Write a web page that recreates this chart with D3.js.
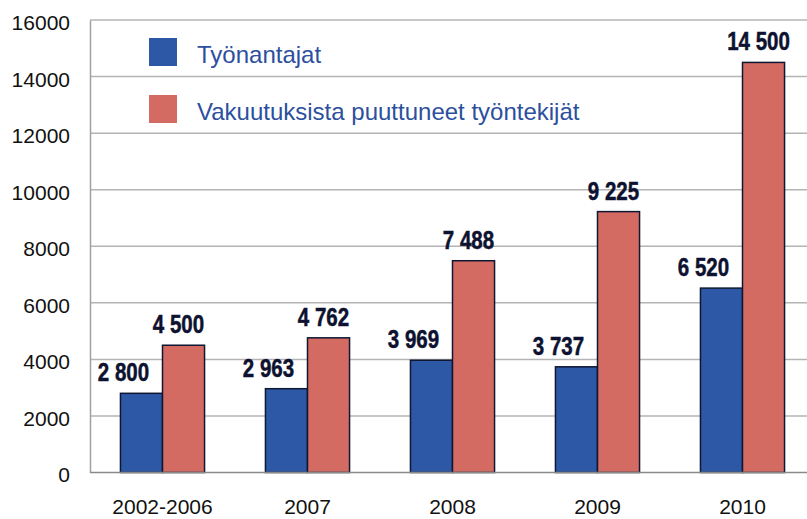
<!DOCTYPE html>
<html>
<head>
<meta charset="utf-8">
<script src="https://cdn.jsdelivr.net/npm/d3@7"></script>
<style>
    body { margin: 0; background: #fff; }
    svg { display: block; }
</style>
</head>
<body>
<div id="chart"></div>
<script>
const WIDTH = 807;
const HEIGHT = 519;
const PLOT = { left: 90, right: 815, top: 20, bottom: 472.5 };

const categories = ['2002-2006', '2007', '2008', '2009', '2010'];
const seriesNames = ['Työnantajat', 'Vakuutuksista puuttuneet työntekijät'];
const employers = [2800, 2963, 3969, 3737, 6520];
const workers = [4500, 4762, 7488, 9225, 14500];
const yTicks = [0, 2000, 4000, 6000, 8000, 10000, 12000, 14000, 16000];

const COLORS = ['#2c58a5', '#d46b62'];
const LABEL_DX = [-18, -5];

const svg = d3.select('#chart')
    .append('svg')
    .attr('width', WIDTH)
    .attr('height', HEIGHT);

const x0 = d3.scaleBand()
    .domain(categories)
    .range([PLOT.left, PLOT.right])
    .paddingInner(0.42)
    .paddingOuter(0.21);

const x1 = d3.scaleBand()
    .domain([0, 1])
    .range([0, x0.bandwidth()]);

const y = d3.scaleLinear()
    .domain([0, 16000])
    .range([PLOT.bottom, PLOT.top]);

// Gridlines
svg.append('g')
    .selectAll('line')
    .data(yTicks.filter(d => d > 0))
    .enter()
    .append('line')
    .attr('x1', PLOT.left)
    .attr('x2', WIDTH)
    .attr('y1', d => y(d))
    .attr('y2', d => y(d))
    .style('stroke', '#b4b4b4')
    .style('stroke-width', 1.5);

// Y axis
const yAxis = svg.append('g')
    .attr('transform', `translate(${PLOT.left},0)`)
    .call(d3.axisLeft(y).tickValues(yTicks).tickSize(0).tickPadding(20).tickFormat(d3.format('d')));
yAxis.select('.domain')
    .style('stroke', '#a0a0a0')
    .style('stroke-width', 1.5);
yAxis.selectAll('text')
    .attr('dy', '0.45em')
    .style('font-family', '"Liberation Sans", Arial, sans-serif')
    .style('font-size', '21px')
    .style('fill', '#111');

// Bars
const rows = categories.map((c, i) => ({ cat: c, values: [employers[i], workers[i]] }));

const groups = svg.selectAll('g.group')
    .data(rows)
    .enter()
    .append('g')
    .attr('class', 'group')
    .attr('transform', d => `translate(${x0(d.cat)},0)`);

groups.selectAll('rect')
    .data(d => d.values.map((v, s) => ({ s, v })))
    .enter()
    .append('rect')
    .attr('x', d => x1(d.s))
    .attr('y', d => y(d.v))
    .attr('width', x1.bandwidth())
    .attr('height', d => y(0) - y(d.v))
    .style('fill', d => COLORS[d.s])
    .style('stroke', '#0f1733')
    .style('stroke-width', 1.5);

// Value labels, condensed bold
groups.selectAll('text.value')
    .data(d => d.values.map((v, s) => ({ s, v })))
    .enter()
    .append('text')
    .attr('class', 'value')
    .attr('transform', d => `translate(${x1(d.s) + x1.bandwidth() / 2 + LABEL_DX[d.s]},${y(d.v) - 12}) scale(0.82,1)`)
    .style('text-anchor', 'middle')
    .style('font-family', '"Liberation Sans", Arial, sans-serif')
    .style('font-weight', 'bold')
    .style('font-size', '25px')
    .style('fill', '#0d1230')
    .style('stroke', '#0d1230')
    .style('stroke-width', 0.5)
    .text(d => d3.format(',')(d.v).replace(',', ' '));

// Zero line
svg.append('line')
    .attr('x1', PLOT.left)
    .attr('x2', WIDTH)
    .attr('y1', y(0))
    .attr('y2', y(0))
    .style('stroke', '#8a8a8a')
    .style('stroke-width', 1.5);

// X axis labels
const xAxis = svg.append('g')
    .attr('transform', `translate(0,${y(0)})`)
    .call(d3.axisBottom(x0).tickSize(0).tickPadding(27));
xAxis.select('.domain').remove();
xAxis.selectAll('text')
    .style('font-family', '"Liberation Sans", Arial, sans-serif')
    .style('font-size', '21px')
    .style('fill', '#111');

// Legend
const legend = svg.selectAll('g.legend')
    .data(seriesNames)
    .enter()
    .append('g')
    .attr('class', 'legend')
    .attr('transform', (d, i) => `translate(149,${38 + i * 57})`);

legend.append('rect')
    .attr('width', 28)
    .attr('height', 28)
    .style('fill', (d, i) => COLORS[i]);

legend.append('text')
    .attr('x', 48)
    .attr('y', 25)
    .style('font-family', '"Liberation Sans", Arial, sans-serif')
    .style('font-size', '24px')
    .style('fill', '#2c4f9e')
    .text(d => d);
</script>
</body>
</html>
